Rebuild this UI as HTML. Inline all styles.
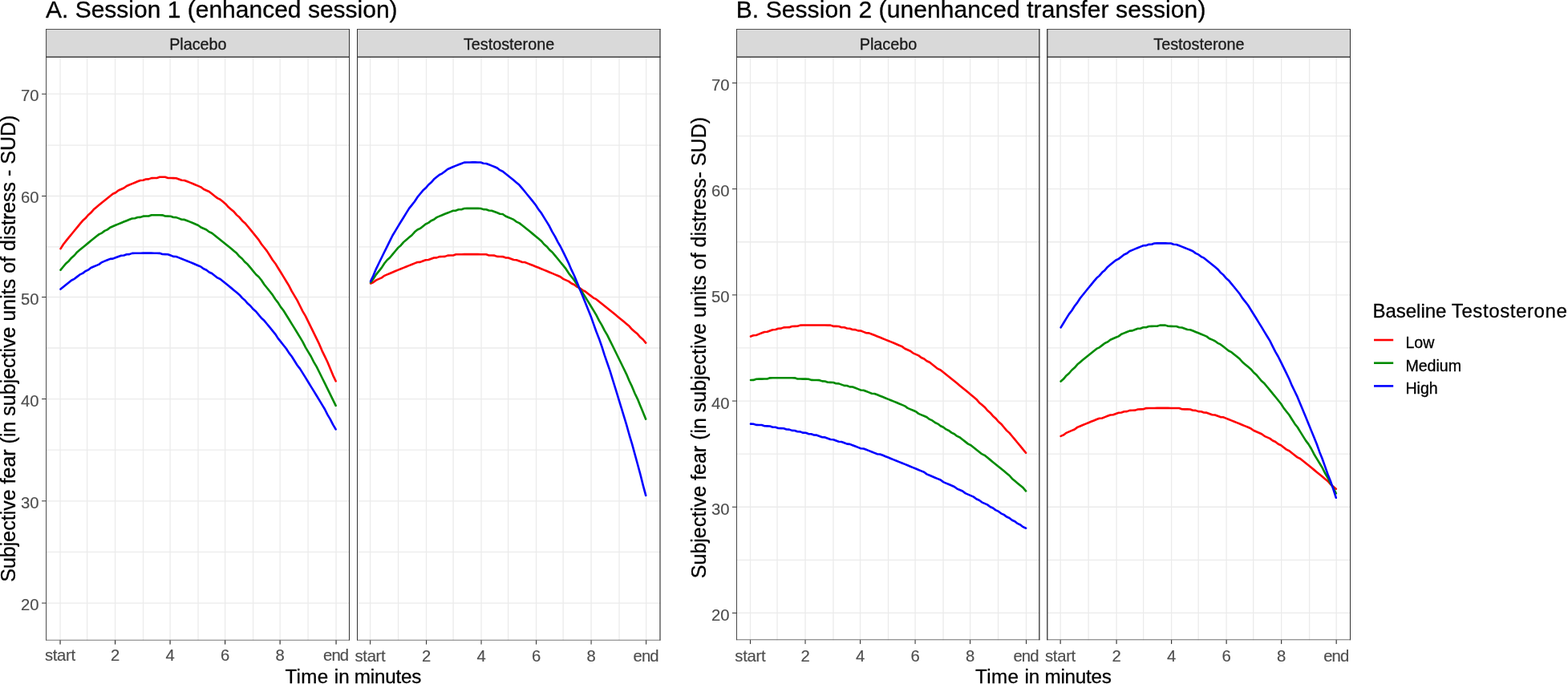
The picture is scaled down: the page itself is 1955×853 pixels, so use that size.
<!DOCTYPE html>
<html lang="en">
<head>
<meta charset="utf-8">
<title>Subjective fear by session, group and baseline testosterone</title>
<style>
html,body{margin:0;padding:0;background:#fff;}
body{width:1955px;height:853px;overflow:hidden;}
svg{display:block;}
text{font-family:"Liberation Sans", Arial, Helvetica, sans-serif;stroke-width:0.3px;stroke-linejoin:round;}
.k{stroke:#000;}.g{stroke:#4D4D4D;stroke-width:0.15px;}.s{stroke:#1A1A1A;}
</style>
</head>
<body>
<svg width="1955" height="853" viewBox="0 0 1955 853" role="img" aria-label="Subjective fear over time by session, treatment group and baseline testosterone">
<rect width="1955" height="853" fill="#fff"/>
<text x="57" y="22.2" font-size="30" fill="#000" class="k">A. Session 1 (enhanced session)</text>
<text x="917.7" y="22.2" font-size="30" letter-spacing="0.09" fill="#000" class="k">B. Session 2 (unenhanced transfer session)</text>
<g>
<rect x="57.2" y="36.1" width="378.8" height="35" fill="#D9D9D9"/>
<path d="M57.2 688.43H436M57.2 561.17H436M57.2 434.02H436M57.2 307.95H436M57.2 181.1H436M108.61 71.1V798.5M178.53 71.1V798.5M247.05 71.1V798.5M315.57 71.1V798.5M384.1 71.1V798.5" stroke="#EBEBEB" stroke-width="1.3" fill="none"/>
<path d="M57.2 752.07H436M57.2 624.8H436M57.2 497.55H436M57.2 370.5H436M57.2 244.5H436M57.2 117.2H436M75.05 71.1V798.5M143.57 71.1V798.5M212.09 71.1V798.5M280.61 71.1V798.5M349.14 71.1V798.5M419.06 71.1V798.5" stroke="#EBEBEB" stroke-width="1.3" fill="none"/>
<polyline points="75.55,310.1 78.98,304.69 82.41,300.41 85.84,296.17 89.27,291.95 92.7,287.75 96.14,283.58 99.57,279.44 103,275.32 106.43,272.34 109.86,268.28 113.29,265.36 116.72,261.34 120.15,258.47 123.58,255.62 127.02,252.81 130.45,250.01 133.88,247.24 137.31,244.5 140.74,241.79 144.17,240.21 147.6,237.55 151.03,236.03 154.46,234.53 157.89,231.95 161.32,230.5 164.76,229.09 168.19,227.69 171.62,226.33 175.05,224.99 178.48,224.79 181.91,223.5 185.34,223.36 188.77,222.12 192.2,222.03 195.63,221.96 199.07,220.8 202.5,220.79 205.93,220.8 209.36,221.95 212.79,222.01 216.22,222.1 219.65,222.21 223.08,223.47 226.51,224.75 229.94,224.94 233.38,226.28 236.81,227.64 240.24,229.02 243.67,230.44 247.1,231.87 250.53,233.34 253.96,235.95 257.39,237.46 260.82,239 264.25,241.69 267.69,244.4 271.12,247.13 274.55,248.78 277.98,251.56 281.41,254.38 284.84,258.34 288.27,261.2 291.7,264.09 295.13,268.13 298.56,271.07 302,275.16 305.43,278.15 308.86,282.29 312.29,286.45 315.72,290.64 319.15,294.86 322.58,299.1 326.01,304.49 329.44,308.78 332.88,313.1 336.31,318.56 339.74,324.05 343.17,328.44 346.6,333.98 350.03,339.55 353.46,345.14 356.89,350.76 360.32,356.4 363.75,363.19 367.19,368.89 370.62,374.61 374.05,381.47 377.48,388.36 380.91,394.16 384.34,401.1 387.77,408.07 391.2,415.06 394.63,422.08 398.06,429.13 401.5,437.32 404.93,444.41 408.36,451.53 411.79,459.8 415.22,468.09 418.65,475.29" fill="none" stroke="#FF0000" stroke-width="2.6" stroke-linejoin="round" stroke-linecap="round"/>
<polyline points="75.55,336.64 78.98,332.52 82.41,328.42 85.84,325.46 89.27,321.4 92.7,318.49 96.14,314.47 99.57,311.6 103,308.76 106.43,305.93 109.86,303.13 113.29,300.35 116.72,297.59 120.15,294.85 123.58,292.14 127.02,290.57 130.45,287.9 133.88,286.37 137.31,283.75 140.74,282.26 144.17,280.8 147.6,279.36 151.03,277.95 154.46,276.55 157.89,275.18 161.32,273.83 164.76,272.51 168.19,272.32 171.62,271.04 175.05,270.9 178.48,269.66 181.91,269.56 185.34,269.49 188.77,268.32 192.2,268.29 195.63,268.28 199.07,268.3 202.5,268.34 205.93,269.51 209.36,269.6 212.79,269.7 216.22,270.95 219.65,271.1 223.08,272.39 226.51,273.7 229.94,273.92 233.38,275.27 236.81,276.65 240.24,278.06 243.67,279.48 247.1,280.93 250.53,283.52 253.96,285.01 257.39,286.52 260.82,289.18 264.25,290.74 267.69,293.43 271.12,296.16 274.55,298.9 277.98,301.67 281.41,304.46 284.84,307.27 288.27,310.1 291.7,312.96 295.13,315.84 298.56,319.86 302,322.78 305.43,326.84 308.86,329.81 312.29,333.92 315.72,338.05 319.15,342.21 322.58,345.26 326.01,349.46 329.44,354.8 332.88,359.04 336.31,363.31 339.74,367.6 343.17,373.03 346.6,377.36 350.03,382.83 353.46,387.21 356.89,392.73 360.32,398.27 363.75,403.83 367.19,409.42 370.62,415.02 374.05,420.65 377.48,426.31 380.91,433.1 384.34,438.8 387.77,444.52 391.2,451.38 394.63,457.14 398.06,464.04 401.5,470.97 404.93,477.92 408.36,484.89 411.79,491.89 415.22,498.91 418.65,505.94" fill="none" stroke="#008B00" stroke-width="2.6" stroke-linejoin="round" stroke-linecap="round"/>
<polyline points="75.55,360.62 78.98,357.8 82.41,355.01 85.84,352.23 89.27,349.47 92.7,347.85 96.14,345.13 99.57,342.43 103,340.87 106.43,338.2 109.86,336.67 113.29,334.05 116.72,332.56 120.15,331.09 123.58,329.63 127.02,327.08 130.45,325.67 133.88,324.27 137.31,322.89 140.74,322.65 144.17,321.31 147.6,319.99 151.03,318.69 154.46,318.52 157.89,317.26 161.32,317.13 164.76,315.9 168.19,315.81 171.62,315.74 175.05,315.69 178.48,315.65 181.91,315.64 185.34,315.64 188.77,315.66 192.2,315.71 195.63,315.76 199.07,315.84 202.5,317.06 205.93,317.17 209.36,317.31 212.79,318.58 216.22,319.87 219.65,320.06 223.08,321.39 226.51,322.73 229.94,324.1 233.38,325.48 236.81,326.89 240.24,328.31 243.67,329.75 247.1,331.21 250.53,332.68 253.96,335.3 257.39,336.81 260.82,339.47 264.25,341.02 267.69,343.71 271.12,346.42 274.55,348.03 277.98,350.77 281.41,353.54 284.84,356.32 288.27,359.12 291.7,361.94 295.13,364.78 298.56,367.64 302,371.63 305.43,374.53 308.86,378.56 312.29,381.5 315.72,385.57 319.15,388.54 322.58,392.64 326.01,396.77 329.44,399.8 332.88,403.96 336.31,408.14 339.74,412.35 343.17,416.57 346.6,421.92 350.03,426.18 353.46,430.46 356.89,434.75 360.32,440.18 363.75,444.52 367.19,449.99 370.62,455.48 374.05,459.86 377.48,465.39 380.91,470.93 384.34,476.5 387.77,482.08 391.2,487.68 394.63,493.3 398.06,498.94 401.5,504.59 404.93,510.27 408.36,517.08 411.79,522.8 415.22,529.65 418.65,535.4" fill="none" stroke="#0000FF" stroke-width="2.6" stroke-linejoin="round" stroke-linecap="round"/>
<rect x="57.2" y="36.1" width="378.8" height="0.8" fill="#333333"/>
<rect x="57.2" y="70.4" width="378.8" height="1.4" fill="#333333"/>
<rect x="57.2" y="797.85" width="378.8" height="0.65" fill="#333333"/>
<rect x="57.2" y="36.1" width="0.9" height="762.4" fill="#333333"/>
<rect x="435" y="36.1" width="1" height="762.4" fill="#333333"/>
<rect x="74.45" y="798.5" width="1.2" height="5.1" fill="#333333"/>
<text x="74.9" y="824.4" font-size="20.3" letter-spacing="-0.3" fill="#4D4D4D" class="g" text-anchor="middle">start</text>
<rect x="142.97" y="798.5" width="1.2" height="5.1" fill="#333333"/>
<text x="143.57" y="824.4" font-size="20.3" fill="#4D4D4D" class="g" text-anchor="middle">2</text>
<rect x="211.49" y="798.5" width="1.2" height="5.1" fill="#333333"/>
<text x="212.09" y="824.4" font-size="20.3" fill="#4D4D4D" class="g" text-anchor="middle">4</text>
<rect x="280.01" y="798.5" width="1.2" height="5.1" fill="#333333"/>
<text x="280.61" y="824.4" font-size="20.3" fill="#4D4D4D" class="g" text-anchor="middle">6</text>
<rect x="348.54" y="798.5" width="1.2" height="5.1" fill="#333333"/>
<text x="349.14" y="824.4" font-size="20.3" fill="#4D4D4D" class="g" text-anchor="middle">8</text>
<rect x="418.46" y="798.5" width="1.2" height="5.1" fill="#333333"/>
<text x="418.61" y="824.4" font-size="20.3" letter-spacing="-0.9" fill="#4D4D4D" class="g" text-anchor="middle">end</text>
<text x="246.88" y="62" font-size="19.8" fill="#1A1A1A" class="s" text-anchor="middle">Placebo</text>
</g>
<g>
<rect x="445" y="36.1" width="378.58" height="35" fill="#D9D9D9"/>
<path d="M445 688.43H823.58M445 561.17H823.58M445 434.02H823.58M445 307.95H823.58M445 181.1H823.58M496.56 71.1V798.5M565.08 71.1V798.5M633.6 71.1V798.5M702.12 71.1V798.5M772.04 71.1V798.5" stroke="#EBEBEB" stroke-width="1.3" fill="none"/>
<path d="M445 752.07H823.58M445 624.8H823.58M445 497.55H823.58M445 370.5H823.58M445 244.5H823.58M445 117.2H823.58M461.6 71.1V798.5M531.52 71.1V798.5M600.04 71.1V798.5M668.56 71.1V798.5M737.08 71.1V798.5M805.61 71.1V798.5" stroke="#EBEBEB" stroke-width="1.3" fill="none"/>
<polyline points="462.1,353.52 465.53,352.01 468.96,349.39 472.39,347.9 475.82,346.42 479.25,343.83 482.69,342.37 486.12,340.93 489.55,339.49 492.98,338.06 496.41,336.65 499.84,335.25 503.27,333.85 506.7,332.47 510.13,331.1 513.57,329.74 517,328.39 520.43,327.06 523.86,326.85 527.29,325.53 530.72,324.23 534.15,324.05 537.58,322.77 541.01,321.5 544.44,321.35 547.88,320.1 551.31,319.98 554.74,319.87 558.17,318.65 561.6,318.57 565.03,318.49 568.46,317.3 571.89,317.25 575.32,317.21 578.75,317.17 582.19,317.15 585.62,317.14 589.05,317.14 592.48,317.15 595.91,317.17 599.34,317.2 602.77,317.25 606.2,317.3 609.63,318.48 613.06,318.56 616.5,318.65 619.93,319.86 623.36,319.97 626.79,320.09 630.22,321.34 633.65,321.48 637.08,322.76 640.51,324.04 643.94,324.21 647.37,325.52 650.81,326.83 654.24,327.04 657.67,328.38 661.1,329.72 664.53,331.08 667.96,332.45 671.39,333.83 674.82,335.22 678.25,336.63 681.68,338.04 685.12,339.47 688.55,340.9 691.98,342.35 695.41,343.8 698.84,345.27 702.27,347.87 705.7,349.36 709.13,350.86 712.56,353.49 715.99,355.02 719.42,357.67 722.86,359.21 726.29,361.89 729.72,363.45 733.15,366.15 736.58,368.86 740.01,371.58 743.44,373.19 746.87,375.93 750.3,378.68 753.74,381.44 757.17,384.21 760.6,387 764.03,389.79 767.46,392.6 770.89,395.41 774.32,398.24 777.75,401.08 781.18,403.93 784.61,406.79 788.05,410.78 791.48,413.66 794.91,416.55 798.34,420.58 801.77,423.49 805.2,427.54" fill="none" stroke="#FF0000" stroke-width="2.6" stroke-linejoin="round" stroke-linecap="round"/>
<polyline points="462.1,352.14 465.53,347.81 468.96,342.38 472.39,338.1 475.82,333.84 479.25,328.5 482.69,324.29 486.12,321.24 489.55,317.09 492.98,312.97 496.41,308.87 499.84,305.92 503.27,301.88 506.7,298.98 510.13,296.11 513.57,293.27 517,289.33 520.43,286.54 523.86,284.9 527.29,282.16 530.72,279.45 534.15,277.89 537.58,275.23 541.01,273.72 544.44,271.11 547.88,269.66 551.31,268.22 554.74,266.82 558.17,265.44 561.6,264.09 565.03,262.76 568.46,262.59 571.89,261.31 575.32,261.19 578.75,259.97 582.19,259.9 585.62,259.85 589.05,259.83 592.48,259.84 595.91,259.87 599.34,259.93 602.77,261.14 606.2,261.25 609.63,262.51 613.06,262.68 616.5,263.99 619.93,265.33 623.36,266.69 626.79,266.97 630.22,269.5 633.65,270.95 637.08,272.42 640.51,273.92 643.94,276.57 647.37,278.12 650.81,280.82 654.24,283.54 657.67,286.29 661.1,289.07 664.53,291.87 667.96,294.7 671.39,297.56 674.82,300.44 678.25,304.47 681.68,307.41 685.12,311.49 688.55,314.49 691.98,318.62 695.41,322.78 698.84,326.97 702.27,331.19 705.7,335.43 709.13,340.82 712.56,345.12 715.99,349.44 719.42,354.91 722.86,360.4 726.29,364.81 729.72,370.35 733.15,375.93 736.58,381.53 740.01,387.16 743.44,392.81 746.87,399.61 750.3,405.32 753.74,412.17 757.17,417.94 760.6,424.84 764.03,431.78 767.46,438.74 770.89,445.72 774.32,452.74 777.75,459.78 781.18,466.84 784.61,475.05 788.05,482.17 791.48,490.44 794.91,497.61 798.34,505.93 801.77,514.28 805.2,522.65" fill="none" stroke="#008B00" stroke-width="2.6" stroke-linejoin="round" stroke-linecap="round"/>
<polyline points="462.1,350.77 465.53,343.6 468.96,335.36 472.39,328.28 475.82,321.25 479.25,314.25 482.69,307.3 486.12,300.39 489.55,293.52 492.98,287.82 496.41,282.16 499.84,276.53 503.27,270.96 506.7,265.42 510.13,259.93 513.57,255.6 517,251.31 520.43,245.94 523.86,241.74 527.29,237.58 530.72,234.58 534.15,230.5 537.58,227.59 541.01,223.59 544.44,220.76 547.88,217.98 551.31,216.35 554.74,213.65 558.17,210.99 561.6,209.49 565.03,208.03 568.46,206.62 571.89,205.25 575.32,203.92 578.75,202.63 582.19,202.51 585.62,202.43 589.05,202.39 592.48,202.39 595.91,202.43 599.34,202.52 602.77,203.77 606.2,203.94 609.63,205.28 613.06,206.65 616.5,208.07 619.93,209.53 623.36,212.16 626.79,213.7 630.22,216.41 633.65,219.16 637.08,221.95 640.51,224.79 643.94,227.67 647.37,230.59 650.81,234.67 654.24,238.79 657.67,242.96 661.1,247.17 664.53,251.42 667.96,255.72 671.39,261.17 674.82,265.55 678.25,271.09 681.68,276.68 685.12,282.3 688.55,289.09 691.98,294.8 695.41,301.67 698.84,307.47 702.27,314.42 705.7,321.42 709.13,328.47 712.56,336.67 715.99,343.8 719.42,352.08 722.86,360.41 726.29,368.79 729.72,377.2 733.15,385.66 736.58,394.16 740.01,403.83 743.44,413.53 746.87,422.16 750.3,431.95 753.74,442.9 757.17,452.77 760.6,462.69 764.03,473.77 767.46,484.89 770.89,496.06 774.32,507.26 777.75,518.51 781.18,529.8 784.61,542.25 788.05,553.63 791.48,566.17 794.91,578.75 798.34,591.37 801.77,605.15 805.2,617.86" fill="none" stroke="#0000FF" stroke-width="2.6" stroke-linejoin="round" stroke-linecap="round"/>
<rect x="445" y="36.1" width="378.58" height="0.8" fill="#333333"/>
<rect x="445" y="70.4" width="378.58" height="1.4" fill="#333333"/>
<rect x="445" y="797.85" width="378.58" height="0.65" fill="#333333"/>
<rect x="445" y="36.1" width="1" height="762.4" fill="#333333"/>
<rect x="822.42" y="36.1" width="1.15" height="762.4" fill="#333333"/>
<rect x="461.08" y="798.5" width="1.05" height="5.1" fill="#333333"/>
<text x="461.45" y="824.8" font-size="20.3" letter-spacing="-0.3" fill="#4D4D4D" class="g" text-anchor="middle">start</text>
<rect x="531" y="798.5" width="1.05" height="5.1" fill="#333333"/>
<text x="531.52" y="824.8" font-size="20.3" fill="#4D4D4D" class="g" text-anchor="middle">2</text>
<rect x="599.52" y="798.5" width="1.05" height="5.1" fill="#333333"/>
<text x="600.04" y="824.8" font-size="20.3" fill="#4D4D4D" class="g" text-anchor="middle">4</text>
<rect x="668.04" y="798.5" width="1.05" height="5.1" fill="#333333"/>
<text x="668.56" y="824.8" font-size="20.3" fill="#4D4D4D" class="g" text-anchor="middle">6</text>
<rect x="736.56" y="798.5" width="1.05" height="5.1" fill="#333333"/>
<text x="737.08" y="824.8" font-size="20.3" fill="#4D4D4D" class="g" text-anchor="middle">8</text>
<rect x="805.08" y="798.5" width="1.05" height="5.1" fill="#333333"/>
<text x="805.16" y="824.8" font-size="20.3" letter-spacing="-0.9" fill="#4D4D4D" class="g" text-anchor="middle">end</text>
<text x="634.55" y="62" font-size="19.8" fill="#1A1A1A" class="s" text-anchor="middle">Testosterone</text>
</g>
<g>
<rect x="918.1" y="36.1" width="378.4" height="35" fill="#D9D9D9"/>
<path d="M918.1 698.35H1296.5M918.1 566.15H1296.5M918.1 433.95H1296.5M918.1 301.75H1296.5M918.1 169.55H1296.5M969.06 71.1V798.2M1038.98 71.1V798.2M1107.5 71.1V798.2M1176.02 71.1V798.2M1244.55 71.1V798.2" stroke="#EBEBEB" stroke-width="1.3" fill="none"/>
<path d="M918.1 764.45H1296.5M918.1 632.25H1296.5M918.1 500.05H1296.5M918.1 367.85H1296.5M918.1 235.65H1296.5M918.1 103.45H1296.5M935.5 71.1V798.2M1004.02 71.1V798.2M1072.54 71.1V798.2M1141.06 71.1V798.2M1209.59 71.1V798.2M1279.51 71.1V798.2" stroke="#EBEBEB" stroke-width="1.3" fill="none"/>
<polyline points="936,419.57 939.43,418.21 942.86,417.97 946.29,416.63 949.72,415.3 953.15,413.98 956.59,413.78 960.02,412.48 963.45,411.19 966.88,411.04 970.31,409.77 973.74,409.63 977.17,408.38 980.6,408.27 984.03,408.16 987.47,406.95 990.9,406.87 994.33,406.79 997.76,405.61 1001.19,405.56 1004.62,405.52 1008.05,405.49 1011.48,405.47 1014.91,405.46 1018.34,405.47 1021.77,405.48 1025.21,405.5 1028.64,405.54 1032.07,405.59 1035.5,405.64 1038.93,406.83 1042.36,406.91 1045.79,407 1049.22,408.21 1052.65,408.32 1056.09,409.56 1059.52,409.7 1062.95,410.96 1066.38,411.11 1069.81,412.4 1073.24,412.57 1076.67,413.88 1080.1,415.19 1083.53,415.4 1086.96,416.74 1090.39,418.08 1093.83,419.44 1097.26,420.81 1100.69,422.19 1104.12,423.59 1107.55,424.99 1110.98,426.4 1114.41,427.82 1117.84,429.26 1121.27,430.7 1124.7,432.16 1128.14,434.75 1131.57,436.22 1135,437.71 1138.43,440.33 1141.86,441.84 1145.29,443.36 1148.72,446.01 1152.15,447.55 1155.58,450.23 1159.02,451.79 1162.45,454.48 1165.88,457.19 1169.31,459.9 1172.74,461.51 1176.17,464.25 1179.6,466.99 1183.03,469.75 1186.46,472.52 1189.89,475.3 1193.33,478.09 1196.76,480.89 1200.19,483.71 1203.62,486.53 1207.05,489.36 1210.48,492.21 1213.91,495.06 1217.34,497.93 1220.77,501.93 1224.2,504.82 1227.63,507.71 1231.07,511.74 1234.5,514.66 1237.93,518.71 1241.36,521.65 1244.79,525.73 1248.22,528.69 1251.65,532.78 1255.08,536.89 1258.51,539.88 1261.95,544.01 1265.38,548.14 1268.81,552.29 1272.24,556.45 1275.67,560.62 1279.1,564.8" fill="none" stroke="#FF0000" stroke-width="2.6" stroke-linejoin="round" stroke-linecap="round"/>
<polyline points="936,473.98 939.43,473.9 942.86,472.71 946.29,472.65 949.72,472.59 953.15,472.54 956.59,472.49 960.02,471.34 963.45,471.31 966.88,471.29 970.31,471.27 973.74,471.26 977.17,471.26 980.6,471.27 984.03,471.28 987.47,471.31 990.9,471.33 994.33,472.49 997.76,472.53 1001.19,472.58 1004.62,472.64 1008.05,472.7 1011.48,473.89 1014.91,473.97 1018.34,474.06 1021.77,474.15 1025.21,475.37 1028.64,475.48 1032.07,476.71 1035.5,476.83 1038.93,476.96 1042.36,478.21 1045.79,478.36 1049.22,479.63 1052.65,480.9 1056.09,481.07 1059.52,482.36 1062.95,482.54 1066.38,483.84 1069.81,485.16 1073.24,486.48 1076.67,486.68 1080.1,488.02 1083.53,489.36 1086.96,490.71 1090.39,490.94 1093.83,492.31 1097.26,493.68 1100.69,495.05 1104.12,496.44 1107.55,497.83 1110.98,499.23 1114.41,500.63 1117.84,502.04 1121.27,503.46 1124.7,504.89 1128.14,506.33 1131.57,508.89 1135,510.34 1138.43,511.79 1141.86,513.25 1145.29,515.84 1148.72,517.32 1152.15,518.81 1155.58,520.3 1159.02,522.92 1162.45,524.42 1165.88,527.05 1169.31,528.58 1172.74,531.22 1176.17,532.76 1179.6,535.42 1183.03,536.97 1186.46,539.64 1189.89,541.21 1193.33,543.9 1196.76,545.47 1200.19,548.18 1203.62,550.89 1207.05,553.61 1210.48,555.21 1213.91,557.95 1217.34,560.69 1220.77,563.43 1224.2,566.19 1227.63,567.83 1231.07,570.6 1234.5,573.38 1237.93,576.16 1241.36,578.95 1244.79,581.75 1248.22,584.55 1251.65,587.36 1255.08,590.18 1258.51,593.01 1261.95,596.96 1265.38,599.8 1268.81,602.65 1272.24,605.5 1275.67,608.37 1279.1,612.35" fill="none" stroke="#008B00" stroke-width="2.6" stroke-linejoin="round" stroke-linecap="round"/>
<polyline points="936,528.61 939.43,528.69 942.86,529.89 946.29,529.97 949.72,530.06 953.15,531.27 956.59,531.37 960.02,531.47 963.45,532.69 966.88,532.79 970.31,534.02 973.74,534.14 977.17,534.26 980.6,535.5 984.03,535.62 987.47,536.87 990.9,537 994.33,538.26 997.76,538.4 1001.19,539.66 1004.62,539.81 1008.05,541.08 1011.48,541.23 1014.91,542.51 1018.34,542.67 1021.77,543.96 1025.21,545.25 1028.64,545.42 1032.07,546.71 1035.5,548.01 1038.93,548.2 1042.36,549.51 1045.79,550.82 1049.22,551.01 1052.65,552.33 1056.09,553.65 1059.52,553.86 1062.95,555.19 1066.38,556.52 1069.81,557.86 1073.24,559.2 1076.67,559.43 1080.1,560.77 1083.53,562.13 1086.96,563.48 1090.39,564.84 1093.83,566.2 1097.26,566.45 1100.69,567.82 1104.12,569.19 1107.55,570.57 1110.98,571.95 1114.41,573.34 1117.84,574.73 1121.27,576.12 1124.7,577.52 1128.14,578.92 1131.57,580.32 1135,581.73 1138.43,583.14 1141.86,584.55 1145.29,585.97 1148.72,587.39 1152.15,588.82 1155.58,591.37 1159.02,592.8 1162.45,594.24 1165.88,595.68 1169.31,597.12 1172.74,598.57 1176.17,601.14 1179.6,602.6 1183.03,604.06 1186.46,605.52 1189.89,606.99 1193.33,609.58 1196.76,611.05 1200.19,612.53 1203.62,615.13 1207.05,616.61 1210.48,618.1 1213.91,619.6 1217.34,622.21 1220.77,623.71 1224.2,626.33 1227.63,627.84 1231.07,629.35 1234.5,631.99 1237.93,633.51 1241.36,636.15 1244.79,637.67 1248.22,640.32 1251.65,641.85 1255.08,644.51 1258.51,646.05 1261.95,648.72 1265.38,650.26 1268.81,652.93 1272.24,654.49 1275.67,657.17 1279.1,658.73" fill="none" stroke="#0000FF" stroke-width="2.6" stroke-linejoin="round" stroke-linecap="round"/>
<rect x="918.1" y="36.1" width="378.4" height="0.8" fill="#333333"/>
<rect x="918.1" y="70.4" width="378.4" height="1.4" fill="#333333"/>
<rect x="918.1" y="797.5" width="378.4" height="0.7" fill="#333333"/>
<rect x="918.1" y="36.1" width="0.9" height="762.1" fill="#333333"/>
<rect x="1295.2" y="36.1" width="1.3" height="762.1" fill="#333333"/>
<rect x="934.98" y="798.1" width="1.05" height="5" fill="#333333"/>
<text x="935.35" y="824.7" font-size="20.3" letter-spacing="-0.3" fill="#4D4D4D" class="g" text-anchor="middle">start</text>
<rect x="1003.5" y="798.1" width="1.05" height="5" fill="#333333"/>
<text x="1004.02" y="824.7" font-size="20.3" fill="#4D4D4D" class="g" text-anchor="middle">2</text>
<rect x="1072.02" y="798.1" width="1.05" height="5" fill="#333333"/>
<text x="1072.54" y="824.7" font-size="20.3" fill="#4D4D4D" class="g" text-anchor="middle">4</text>
<rect x="1140.54" y="798.1" width="1.05" height="5" fill="#333333"/>
<text x="1141.06" y="824.7" font-size="20.3" fill="#4D4D4D" class="g" text-anchor="middle">6</text>
<rect x="1209.06" y="798.1" width="1.05" height="5" fill="#333333"/>
<text x="1209.59" y="824.7" font-size="20.3" fill="#4D4D4D" class="g" text-anchor="middle">8</text>
<rect x="1278.98" y="798.1" width="1.05" height="5" fill="#333333"/>
<text x="1279.06" y="824.7" font-size="20.3" letter-spacing="-0.9" fill="#4D4D4D" class="g" text-anchor="middle">end</text>
<text x="1107.5" y="62" font-size="19.8" fill="#1A1A1A" class="s" text-anchor="middle">Placebo</text>
</g>
<g>
<rect x="1305.15" y="36.1" width="378.85" height="35" fill="#D9D9D9"/>
<path d="M1305.15 698.35H1684M1305.15 566.15H1684M1305.15 433.95H1684M1305.15 301.75H1684M1305.15 169.55H1684M1357.11 71.1V798.2M1425.63 71.1V798.2M1494.15 71.1V798.2M1562.67 71.1V798.2M1632.59 71.1V798.2" stroke="#EBEBEB" stroke-width="1.3" fill="none"/>
<path d="M1305.15 764.45H1684M1305.15 632.25H1684M1305.15 500.05H1684M1305.15 367.85H1684M1305.15 235.65H1684M1305.15 103.45H1684M1322.15 71.1V798.2M1392.07 71.1V798.2M1460.59 71.1V798.2M1529.11 71.1V798.2M1597.63 71.1V798.2M1666.16 71.1V798.2" stroke="#EBEBEB" stroke-width="1.3" fill="none"/>
<polyline points="1322.65,543.92 1326.08,542.42 1329.51,539.82 1332.94,538.35 1336.37,536.88 1339.81,535.43 1343.24,532.87 1346.67,531.44 1350.1,530.01 1353.53,528.6 1356.96,527.2 1360.39,525.81 1363.82,524.43 1367.25,523.05 1370.68,521.69 1374.12,521.46 1377.55,520.12 1380.98,518.79 1384.41,517.47 1387.84,517.28 1391.27,515.98 1394.7,514.69 1398.13,514.53 1401.56,513.26 1404.99,513.12 1408.43,511.88 1411.86,511.76 1415.29,511.65 1418.72,510.43 1422.15,510.34 1425.58,510.27 1429.01,509.08 1432.44,509.02 1435.87,508.97 1439.3,508.94 1442.74,508.91 1446.17,508.89 1449.6,508.89 1453.03,508.89 1456.46,508.91 1459.89,508.93 1463.32,508.97 1466.75,509.01 1470.18,509.07 1473.61,510.25 1477.05,510.33 1480.48,510.41 1483.91,510.51 1487.34,511.74 1490.77,511.85 1494.2,513.1 1497.63,513.24 1501.06,514.5 1504.49,514.66 1507.92,515.95 1511.36,517.25 1514.79,517.43 1518.22,518.75 1521.65,520.08 1525.08,520.3 1528.51,521.65 1531.94,523.01 1535.37,524.38 1538.8,525.76 1542.23,527.15 1545.67,528.55 1549.1,529.96 1552.53,531.38 1555.96,532.81 1559.39,534.25 1562.82,536.82 1566.25,538.28 1569.68,539.75 1573.11,541.23 1576.54,543.84 1579.98,545.35 1583.41,546.86 1586.84,549.5 1590.27,551.03 1593.7,553.7 1597.13,555.25 1600.56,557.93 1603.99,560.63 1607.42,562.21 1610.85,564.92 1614.29,567.65 1617.72,570.38 1621.15,572.01 1624.58,574.76 1628.01,577.53 1631.44,580.3 1634.87,583.09 1638.3,585.88 1641.73,588.69 1645.16,591.51 1648.6,594.33 1652.03,597.17 1655.46,600.02 1658.89,603.99 1662.32,606.86 1665.75,609.74" fill="none" stroke="#FF0000" stroke-width="2.6" stroke-linejoin="round" stroke-linecap="round"/>
<polyline points="1322.65,475.54 1326.08,472.55 1329.51,468.46 1332.94,465.51 1336.37,461.47 1339.81,458.56 1343.24,454.55 1346.67,451.69 1350.1,448.84 1353.53,446.02 1356.96,443.22 1360.39,440.44 1363.82,437.68 1367.25,434.94 1370.68,433.33 1374.12,430.64 1377.55,427.96 1380.98,426.42 1384.41,423.78 1387.84,422.29 1391.27,420.81 1394.7,419.36 1398.13,416.8 1401.56,415.39 1404.99,414 1408.43,412.63 1411.86,412.4 1415.29,411.07 1418.72,409.76 1422.15,409.59 1425.58,408.32 1429.01,408.19 1432.44,406.97 1435.87,406.88 1439.3,406.81 1442.74,406.77 1446.17,405.63 1449.6,405.62 1453.03,405.64 1456.46,406.8 1459.89,406.86 1463.32,406.94 1466.75,407.04 1470.18,408.28 1473.61,408.43 1477.05,409.71 1480.48,411.01 1483.91,411.22 1487.34,412.56 1490.77,413.93 1494.2,415.31 1497.63,416.72 1501.06,418.15 1504.49,419.6 1507.92,422.19 1511.36,423.68 1514.79,425.19 1518.22,427.84 1521.65,429.4 1525.08,432.09 1528.51,434.8 1531.94,437.54 1535.37,439.17 1538.8,441.95 1542.23,444.75 1545.67,447.56 1549.1,451.52 1552.53,454.38 1555.96,457.26 1559.39,460.16 1562.82,464.2 1566.25,467.15 1569.68,471.23 1573.11,475.33 1576.54,478.34 1579.98,482.48 1583.41,486.65 1586.84,490.84 1590.27,495.04 1593.7,499.27 1597.13,503.52 1600.56,508.91 1603.99,513.2 1607.42,517.51 1610.85,522.96 1614.29,528.43 1617.72,532.81 1621.15,538.32 1624.58,543.86 1628.01,549.41 1631.44,553.87 1634.87,559.47 1638.3,566.2 1641.73,571.84 1645.16,577.5 1648.6,583.18 1652.03,590 1655.46,595.72 1658.89,602.58 1662.32,608.35 1665.75,615.25" fill="none" stroke="#008B00" stroke-width="2.6" stroke-linejoin="round" stroke-linecap="round"/>
<polyline points="1322.65,408.38 1326.08,402.77 1329.51,397.19 1332.94,391.64 1336.37,387.24 1339.81,381.75 1343.24,377.42 1346.67,371.99 1350.1,367.72 1353.53,363.48 1356.96,359.27 1360.39,355.09 1363.82,350.94 1367.25,346.83 1370.68,343.86 1374.12,339.81 1377.55,336.91 1380.98,332.92 1384.41,330.08 1387.84,327.27 1391.27,324.49 1394.7,322.87 1398.13,320.15 1401.56,317.47 1404.99,315.94 1408.43,313.32 1411.86,311.86 1415.29,310.42 1418.72,309.01 1422.15,307.64 1425.58,306.3 1429.01,306.11 1432.44,304.83 1435.87,304.7 1439.3,303.48 1442.74,303.42 1446.17,303.38 1449.6,303.38 1453.03,303.41 1456.46,303.47 1459.89,303.56 1463.32,304.8 1466.75,304.96 1470.18,306.26 1473.61,307.6 1477.05,308.97 1480.48,310.37 1483.91,311.8 1487.34,313.26 1490.77,315.88 1494.2,317.4 1497.63,320.08 1501.06,321.67 1504.49,324.41 1507.92,327.18 1511.36,329.98 1514.79,332.81 1518.22,335.68 1521.65,339.69 1525.08,342.62 1528.51,346.7 1531.94,349.69 1535.37,353.83 1538.8,358.01 1542.23,362.21 1545.67,366.45 1549.1,371.84 1552.53,376.13 1555.96,380.47 1559.39,385.95 1562.82,391.46 1566.25,397 1569.68,402.58 1573.11,408.19 1576.54,413.83 1579.98,419.5 1583.41,425.2 1586.84,432.05 1590.27,438.93 1593.7,444.73 1597.13,451.68 1600.56,458.66 1603.99,465.67 1607.42,472.71 1610.85,480.9 1614.29,488 1617.72,495.14 1621.15,503.42 1624.58,511.74 1628.01,520.09 1631.44,528.47 1634.87,536.88 1638.3,545.33 1641.73,553.8 1645.16,563.43 1648.6,571.97 1652.03,581.66 1655.46,591.38 1658.89,600.01 1662.32,609.79 1665.75,620.73" fill="none" stroke="#0000FF" stroke-width="2.6" stroke-linejoin="round" stroke-linecap="round"/>
<rect x="1305.15" y="36.1" width="378.85" height="0.8" fill="#333333"/>
<rect x="1305.15" y="70.4" width="378.85" height="1.4" fill="#333333"/>
<rect x="1305.15" y="797.5" width="378.85" height="0.7" fill="#333333"/>
<rect x="1305.15" y="36.1" width="1.3" height="762.1" fill="#333333"/>
<rect x="1683" y="36.1" width="1" height="762.1" fill="#333333"/>
<rect x="1321.58" y="798.1" width="1.15" height="5" fill="#333333"/>
<text x="1322" y="824.65" font-size="20.3" letter-spacing="-0.3" fill="#4D4D4D" class="g" text-anchor="middle">start</text>
<rect x="1391.5" y="798.1" width="1.15" height="5" fill="#333333"/>
<text x="1392.07" y="824.65" font-size="20.3" fill="#4D4D4D" class="g" text-anchor="middle">2</text>
<rect x="1460.02" y="798.1" width="1.15" height="5" fill="#333333"/>
<text x="1460.59" y="824.65" font-size="20.3" fill="#4D4D4D" class="g" text-anchor="middle">4</text>
<rect x="1528.54" y="798.1" width="1.15" height="5" fill="#333333"/>
<text x="1529.11" y="824.65" font-size="20.3" fill="#4D4D4D" class="g" text-anchor="middle">6</text>
<rect x="1597.06" y="798.1" width="1.15" height="5" fill="#333333"/>
<text x="1597.63" y="824.65" font-size="20.3" fill="#4D4D4D" class="g" text-anchor="middle">8</text>
<rect x="1665.58" y="798.1" width="1.15" height="5" fill="#333333"/>
<text x="1665.71" y="824.65" font-size="20.3" letter-spacing="-0.9" fill="#4D4D4D" class="g" text-anchor="middle">end</text>
<text x="1494.95" y="62" font-size="19.8" fill="#1A1A1A" class="s" text-anchor="middle">Testosterone</text>
</g>
<g>
<rect x="52.1" y="751.57" width="5.3" height="1" fill="#333333"/>
<text x="48.6" y="760.76" font-size="20.3" fill="#4D4D4D" class="g" text-anchor="end">20</text>
<rect x="52.1" y="624.3" width="5.3" height="1" fill="#333333"/>
<text x="48.6" y="634" font-size="20.3" fill="#4D4D4D" class="g" text-anchor="end">30</text>
<rect x="52.1" y="497.05" width="5.3" height="1" fill="#333333"/>
<text x="48.6" y="507.16" font-size="20.3" fill="#4D4D4D" class="g" text-anchor="end">40</text>
<rect x="52.1" y="370" width="5.3" height="1" fill="#333333"/>
<text x="48.6" y="380.14" font-size="20.3" fill="#4D4D4D" class="g" text-anchor="end">50</text>
<rect x="52.1" y="244" width="5.3" height="1" fill="#333333"/>
<text x="48.6" y="252.85" font-size="20.3" fill="#4D4D4D" class="g" text-anchor="end">60</text>
<rect x="52.1" y="116.7" width="5.3" height="1" fill="#333333"/>
<text x="48.6" y="125.7" font-size="20.3" fill="#4D4D4D" class="g" text-anchor="end">70</text>
<text transform="translate(18.9 434.64) rotate(-90)" font-size="25" fill="#000" class="k" text-anchor="middle">Subjective fear (in subjective units of distress - SUD)</text>
</g>
<g>
<rect x="912.9" y="763.95" width="5.4" height="1" fill="#333333"/>
<text x="909.5" y="774.34" font-size="20.3" fill="#4D4D4D" class="g" text-anchor="end">20</text>
<rect x="912.9" y="631.75" width="5.4" height="1" fill="#333333"/>
<text x="909.5" y="641.7" font-size="20.3" fill="#4D4D4D" class="g" text-anchor="end">30</text>
<rect x="912.9" y="499.55" width="5.4" height="1" fill="#333333"/>
<text x="909.5" y="509.85" font-size="20.3" fill="#4D4D4D" class="g" text-anchor="end">40</text>
<rect x="912.9" y="367.35" width="5.4" height="1" fill="#333333"/>
<text x="909.5" y="377" font-size="20.3" fill="#4D4D4D" class="g" text-anchor="end">50</text>
<rect x="912.9" y="235.15" width="5.4" height="1" fill="#333333"/>
<text x="909.5" y="245.45" font-size="20.3" fill="#4D4D4D" class="g" text-anchor="end">60</text>
<rect x="912.9" y="102.95" width="5.4" height="1" fill="#333333"/>
<text x="909.5" y="113.28" font-size="20.3" fill="#4D4D4D" class="g" text-anchor="end">70</text>
<text transform="translate(880 433.58) rotate(-90)" font-size="25" fill="#000" class="k" text-anchor="middle">Subjective fear (in subjective units of distress- SUD)</text>
</g>
<text y="851.9" font-size="24.2" fill="#000" class="k"><tspan x="355.38" letter-spacing="0.3">Time</tspan> <tspan x="416.77">in</tspan> <tspan x="441.77" letter-spacing="-0.2">minutes</tspan></text>
<text y="851.9" font-size="24.2" fill="#000" class="k"><tspan x="1216.08" letter-spacing="0.3">Time</tspan> <tspan x="1277.48">in</tspan> <tspan x="1302.48" letter-spacing="-0.2">minutes</tspan></text>
<g>
<text y="396.2" font-size="24" fill="#000" class="k"><tspan x="1711.6" letter-spacing="-0.05">Baseline</tspan> <tspan x="1809.8" letter-spacing="0.6">Testosterone</tspan></text>
<path d="M1713 424H1737.2" stroke="#FF0000" stroke-width="2.6" fill="none"/>
<text x="1752.4" y="433.7" font-size="19.6" fill="#000" class="k">Low</text>
<path d="M1713 452.7H1737.2" stroke="#008B00" stroke-width="2.6" fill="none"/>
<text x="1752.4" y="462.5" font-size="19.6" fill="#000" class="k">Medium</text>
<path d="M1713 481.4H1737.2" stroke="#0000FF" stroke-width="2.6" fill="none"/>
<text x="1752.4" y="491.3" font-size="19.6" fill="#000" class="k">High</text>
</g>
</svg>
</body>
</html>
